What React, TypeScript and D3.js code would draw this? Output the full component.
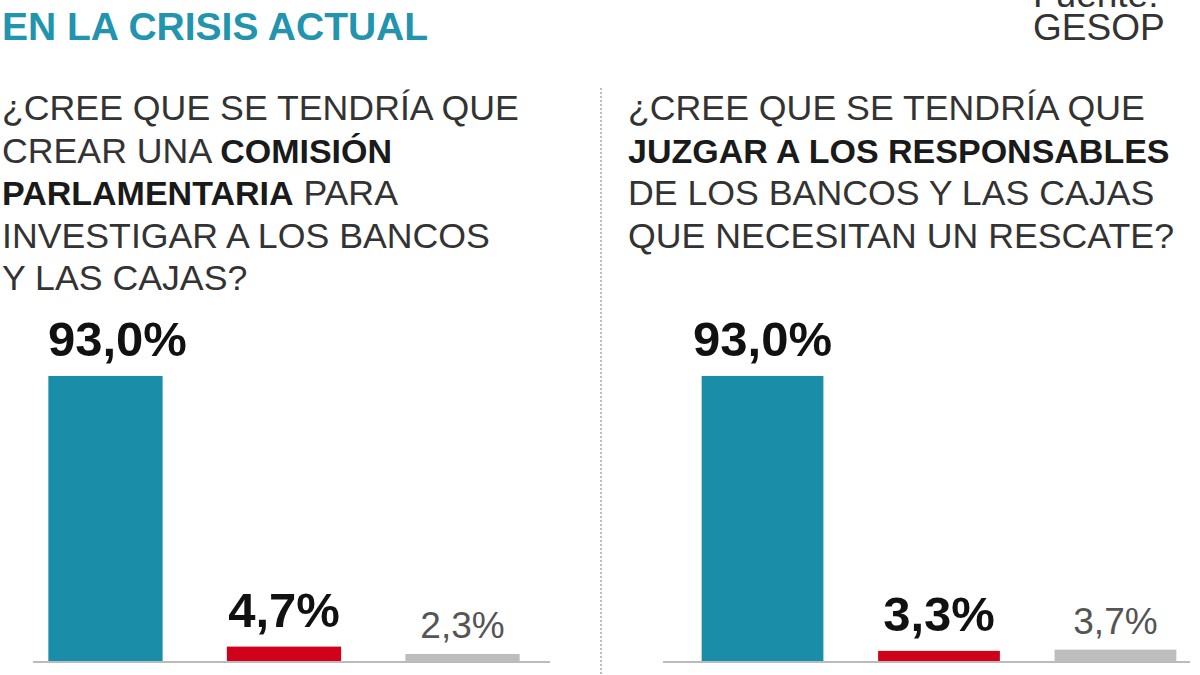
import React from 'react'
import * as d3 from 'd3'

const categories = ['Sí', 'No', 'NS/NC']
const comisionValues = [93.0, 4.7, 2.3]
const juzgarValues = [93.0, 3.3, 3.7]
const barColors = ['#1a8ea9', '#d0021b', '#bdbdbd']

const title = 'EN LA CRISIS ACTUAL'
const source = ['Fuente:', 'GESOP']

// each line is a list of [text, bold] pieces
const questionLeft: [string, boolean][][] = [
  [['¿CREE QUE SE TENDRÍA QUE', false]],
  [['CREAR UNA ', false], ['COMISIÓN', true]],
  [['PARLAMENTARIA', true], [' PARA', false]],
  [['INVESTIGAR A LOS BANCOS', false]],
  [['Y LAS CAJAS?', false]],
]
const questionRight: [string, boolean][][] = [
  [['¿CREE QUE SE TENDRÍA QUE', false]],
  [['JUZGAR A LOS RESPONSABLES', true]],
  [['DE LOS BANCOS Y LAS CAJAS', false]],
  [['QUE NECESITAN UN RESCATE?', false]],
]

const width = 1200
const height = 675
const baseY = 661
const font = '"Liberation Sans", Arial, sans-serif'

const fmt = (v: number) => v.toFixed(1).replace('.', ',') + '%'

const y = d3.scaleLinear().domain([0, 100]).range([baseY, baseY - 306.5])

function Question({ lines, x }: { lines: [string, boolean][][]; x: number }) {
  return (
    <text x={x} fontSize={35.7} fill="#333" fontFamily={font}>
      {lines.map((line, i) => (
        <tspan key={i} x={x} y={120 + i * 42.5}>
          {line.map(([t, b], j) => (
            <tspan key={j} fontWeight={b ? 'bold' : 'normal'} fontSize={b ? 34 : 35.7} fill={b ? '#1a1a1a' : '#333'}>{t}</tspan>
          ))}
        </tspan>
      ))}
    </text>
  )
}

function Panel({ values, range, inner, outer, axis, shift }: {
  values: number[]; range: [number, number]; inner: number; outer: number; axis: [number, number]; shift: number
}) {
  const x = d3.scaleBand<string>().domain(categories).range(range).paddingInner(inner).paddingOuter(outer)
  return (
    <g>
      {values.map((v, i) => {
        const c = categories[i]
        const cx = (x(c) || 0) + x.bandwidth() / 2 + (i === 0 ? shift : 0)
        const bold = i < 2
        return (
          <g key={c}>
            <rect x={x(c)} y={y(v)} width={x.bandwidth()} height={baseY - y(v)} fill={barColors[i]} />
            <text
              x={cx}
              y={y(v) - (bold ? 20 : 16)}
              textAnchor="middle"
              fontFamily={font}
              fontSize={bold ? 49 : 37}
              fontWeight={bold ? 'bold' : 'normal'}
              fill={bold ? '#111' : '#555'}
            >
              {fmt(v)}
            </text>
          </g>
        )
      })}
      <line x1={axis[0]} x2={axis[1]} y1={baseY + 1} y2={baseY + 1} stroke="#bbb" strokeWidth={2} />
    </g>
  )
}

export default function App() {
  return (
    <svg width={width} height={height} style={{ position: 'absolute', left: 0, top: 0, background: '#fff' }}>
      <text x={2} y={40} fontFamily={font} fontSize={39} fontWeight="bold" fill="#2294ae">{title}</text>
      <text x={1033} y={7} fontFamily={font} fontSize={37} fill="#333">{source[0]}</text>
      <text x={1033} y={40} fontFamily={font} fontSize={37} fill="#333">{source[1]}</text>

      <Question lines={questionLeft} x={2} />
      <Question lines={questionRight} x={628} />

      <line x1={601} x2={601} y1={88} y2={675} stroke="#bbb" strokeWidth={2} strokeDasharray="2,2" />

      <Panel values={comisionValues} range={[18, 550]} inner={0.36} outer={0.17} axis={[33, 550]} shift={12} />
      <Panel values={juzgarValues} range={[684, 1194]} inner={0.31} outer={0.1} axis={[663, 1190]} shift={0} />
    </svg>
  )
}
